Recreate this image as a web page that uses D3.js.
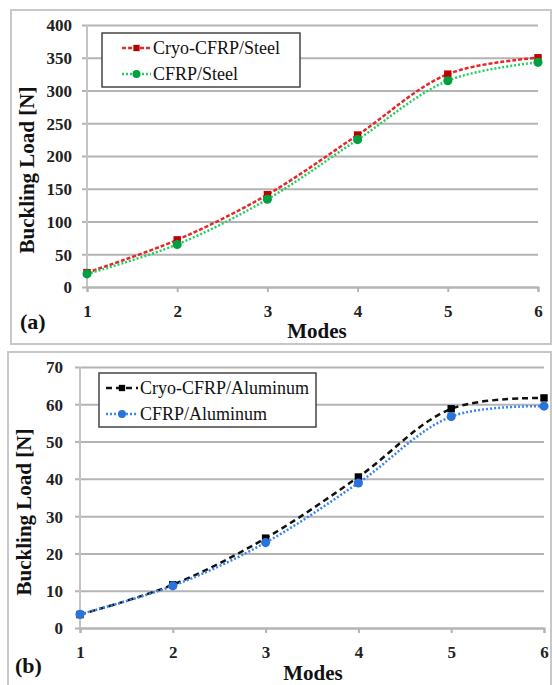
<!DOCTYPE html>
<html>
<head>
<meta charset="utf-8">
<script src="https://cdn.jsdelivr.net/npm/d3@7/dist/d3.min.js"></script>
<style>
	body { margin: 0; background: #fff; }
</style>
</head>
<body>
<script>
// data
var modes = [1, 2, 3, 4, 5, 6];

var steel_cryo = [22, 72, 141, 232, 325, 350];
var steel_cfrp = [20, 65, 134, 225, 315, 343];
var steel_ticks = [0, 50, 100, 150, 200, 250, 300, 350, 400];

var alu_cryo = [3.6, 11.6, 24.1, 40.5, 58.8, 61.7];
var alu_cfrp = [3.7, 11.3, 22.9, 38.9, 56.7, 59.5];
var alu_ticks = [0, 10, 20, 30, 40, 50, 60, 70];

var serif = "Liberation Serif, DejaVu Serif";

var svg = d3.select('body')
	.append('svg')
	.attr('width', 552)
	.attr('height', 685)
	.style('font-family', serif);

svg.append('rect').attr('width', 552).attr('height', 685).attr('fill', '#fff');

// panel frames
svg.append('rect')
	.attr('x', 11).attr('y', 10).attr('width', 540).attr('height', 334)
	.attr('fill', 'none').attr('stroke', '#c8c8c8').attr('stroke-width', 2);
svg.append('rect')
	.attr('x', 8).attr('y', 352).attr('width', 543).attr('height', 345)
	.attr('fill', 'none').attr('stroke', '#c8c8c8').attr('stroke-width', 2);

draw_panel({
	left: 87, right: 538, top: 25, bottom: 287,
	ymax: 400, ticks: steel_ticks,
	label: '(a)', label_x: 20, label_y: 329,
	title_x: 27, title_y: 170, modes_x: 317, modes_y: 338,
	tick_off: 15,
	legend: { x: 102, y: 33, w: 198, h: 54, line_x: 122, text_x: 153 },
	series: [
		{ name: 'Cryo-CFRP/Steel', values: steel_cryo, line: '#e8262a', mark: '#c00000', shape: 'square', dash: '4,2' },
		{ name: 'CFRP/Steel', values: steel_cfrp, line: '#1fd060', mark: '#00a040', shape: 'circle', dash: '2,2' },
	],
});

draw_panel({
	left: 80, right: 544, top: 367, bottom: 628,
	ymax: 70, ticks: alu_ticks,
	label: '(b)', label_x: 15, label_y: 673,
	title_x: 24, title_y: 512, modes_x: 313, modes_y: 680,
	tick_off: 17,
	legend: { x: 99, y: 373, w: 217, h: 54, line_x: 106, text_x: 140 },
	series: [
		{ name: 'Cryo-CFRP/Aluminum', values: alu_cryo, line: '#111', mark: '#000', shape: 'square', dash: '6,4' },
		{ name: 'CFRP/Aluminum', values: alu_cfrp, line: '#3a86ee', mark: '#2a72dc', shape: 'circle', dash: '2,2' },
	],
});

function draw_panel (p) {
	var width = p.right - p.left;
	var height = p.bottom - p.top;

	var g = svg.append('g')
		.attr('transform', 'translate(' + p.left + ',' + p.top + ')');

	var x = d3.scaleLinear().domain([1, 6]).range([0, width]);
	var y = d3.scaleLinear().domain([0, p.ymax]).range([height, 0]);

	// gridlines + y labels
	var y_axis = d3.axisLeft(y)
		.tickValues(p.ticks)
		.tickSize(-width)
		.tickPadding(p.tick_off);
	var ya = g.append('g').attr('class', 'y axis').call(y_axis);
	ya.attr('font-family', null);
	ya.select('.domain').remove();
	ya.selectAll('.tick line')
		.attr('x1', -5)
		.attr('x2', width)
		.attr('stroke', '#b4b4b4')
		.attr('stroke-width', 2);
	ya.selectAll('.tick text')
		.style('font-family', serif)
		.style('font-size', '17px')
		.style('font-weight', 'bold')
		.attr('fill', '#222')
		.attr('dy', '0.35em');

	// vertical axis line
	g.append('line')
		.attr('x1', 0).attr('x2', 0).attr('y1', 0).attr('y2', height)
		.attr('stroke', '#c4c4c4').attr('stroke-width', 2);

	// x axis
	var x_axis = d3.axisBottom(x)
		.tickValues(modes)
		.tickSize(5)
		.tickPadding(13)
		.tickFormat(d3.format('d'));
	var xa = g.append('g')
		.attr('class', 'x axis')
		.attr('transform', 'translate(0,' + height + ')')
		.call(x_axis);
	xa.attr('font-family', null);
	xa.select('.domain').attr('stroke', '#b4b4b4').attr('stroke-width', 2);
	xa.selectAll('.tick line').attr('stroke', '#b4b4b4').attr('stroke-width', 2);
	xa.selectAll('.tick text')
		.style('font-family', serif)
		.style('font-size', '17px')
		.style('font-weight', 'bold')
		.attr('fill', '#222');

	// series
	var line = d3.line()
		.x(function (d, i) { return x(modes[i]); })
		.y(function (d) { return y(d); })
		.curve(d3.curveCatmullRom.alpha(0.5));

	p.series.forEach(function (s) {
		g.append('path')
			.datum(s.values)
			.attr('d', line)
			.attr('fill', 'none')
			.attr('stroke', s.line)
			.attr('stroke-width', 2.5)
			.attr('stroke-dasharray', s.dash);
		g.selectAll(null)
			.data(s.values)
			.enter()
			.append('path')
			.attr('transform', function (d, i) { return 'translate(' + x(modes[i]) + ',' + y(d) + ')'; })
			.attr('d', d3.symbol().type(s.shape == 'square' ? d3.symbolSquare : d3.symbolCircle).size(s.shape == 'square' ? 55 : 65))
			.attr('fill', s.mark);
	});

	// legend
	var lg = svg.append('g').attr('transform', 'translate(' + p.legend.x + ',' + p.legend.y + ')');
	lg.append('rect')
		.attr('width', p.legend.w)
		.attr('height', p.legend.h)
		.attr('fill', '#fff')
		.attr('stroke', '#444')
		.attr('stroke-width', 1.5);
	p.series.forEach(function (s, i) {
		var ly = 15 + i * 26;
		var lx0 = p.legend.line_x - p.legend.x;
		var lx1 = p.legend.text_x - p.legend.x - 2;
		lg.append('line')
			.attr('x1', lx0).attr('x2', lx1)
			.attr('y1', ly).attr('y2', ly)
			.attr('stroke', s.line)
			.attr('stroke-width', 2.5)
			.attr('stroke-dasharray', s.dash);
		lg.append('path')
			.attr('transform', 'translate(' + ((lx0 + lx1) / 2) + ',' + ly + ')')
			.attr('d', d3.symbol().type(s.shape == 'square' ? d3.symbolSquare : d3.symbolCircle).size(s.shape == 'square' ? 40 : 50))
			.attr('fill', s.mark);
		lg.append('text')
			.attr('x', p.legend.text_x - p.legend.x)
			.attr('y', ly)
			.attr('dy', '0.35em')
			.style('font-family', serif)
			.style('font-size', '18px')
			.attr('fill', '#111')
			.text(s.name);
	});

	// titles
	svg.append('text')
		.attr('transform', 'translate(' + p.title_x + ',' + p.title_y + ') rotate(-90)')
		.attr('text-anchor', 'middle')
		.attr('dy', '0.35em')
		.style('font-size', '21px')
		.style('font-weight', 'bold')
		.attr('fill', '#111')
		.text('Buckling Load [N]');
	svg.append('text')
		.attr('x', p.modes_x)
		.attr('y', p.modes_y)
		.attr('text-anchor', 'middle')
		.style('font-size', '21px')
		.style('font-weight', 'bold')
		.attr('fill', '#111')
		.text('Modes');
	svg.append('text')
		.attr('x', p.label_x)
		.attr('y', p.label_y)
		.style('font-size', '22px')
		.style('font-weight', 'bold')
		.attr('fill', '#111')
		.text(p.label);
}
</script>
</body>
</html>
